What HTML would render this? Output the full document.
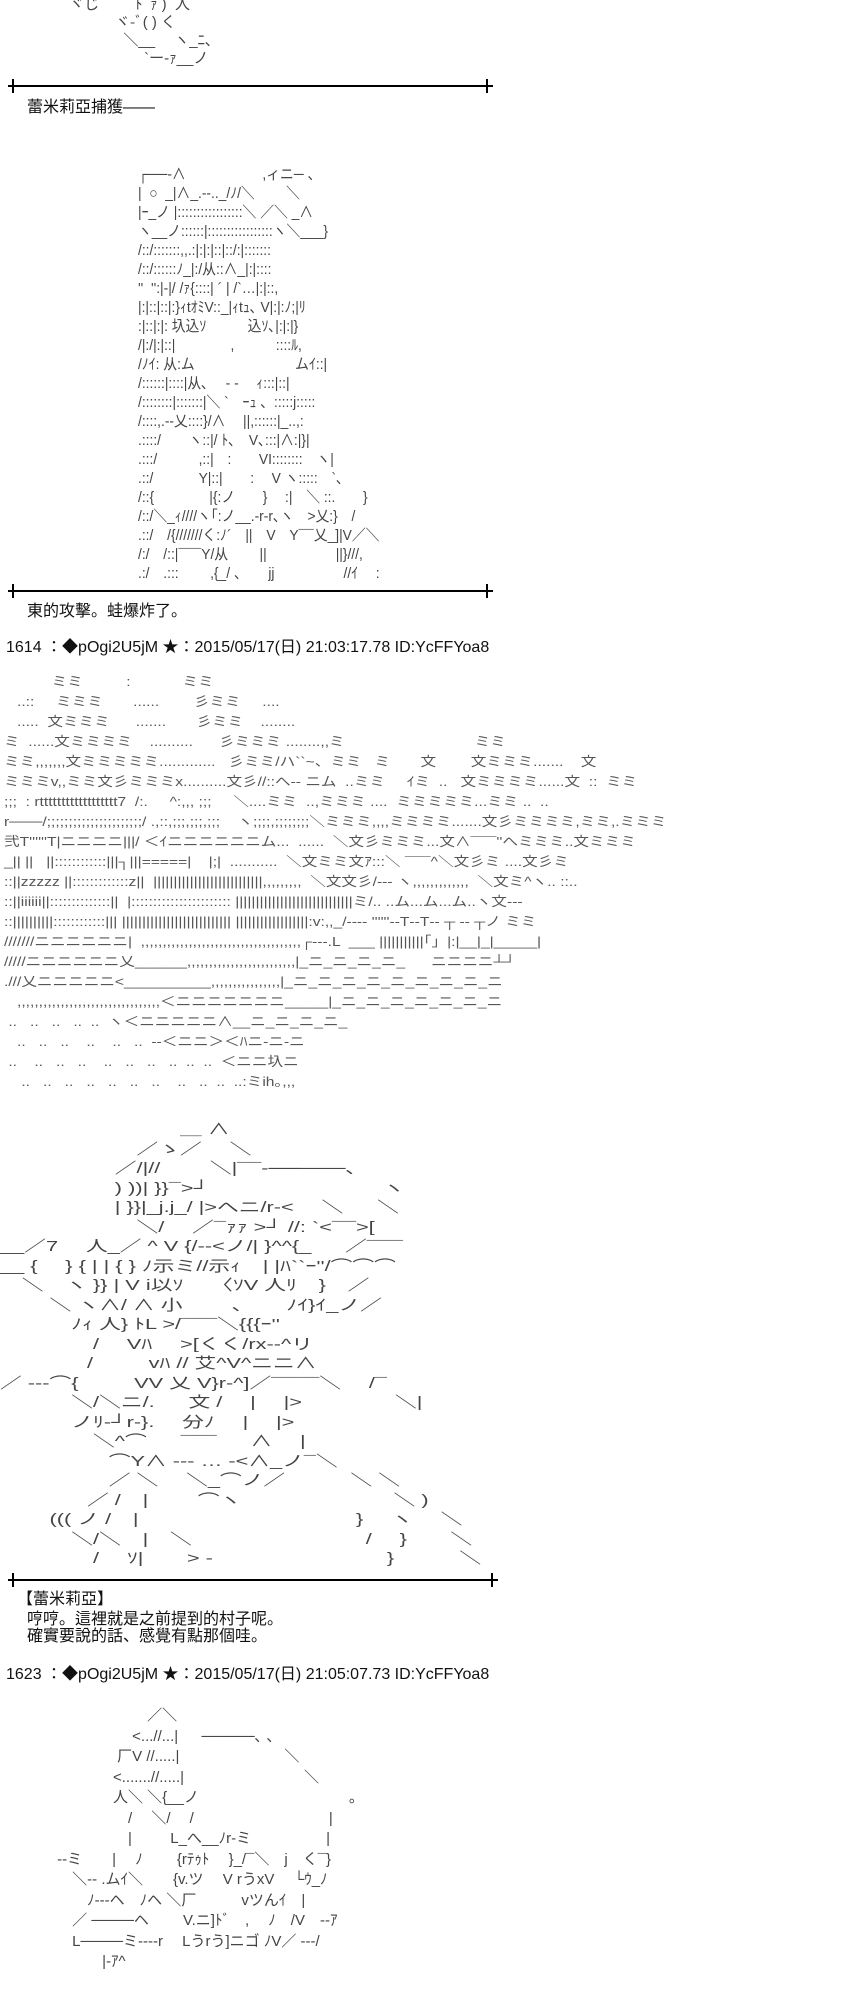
<!DOCTYPE html>
<html><head><meta charset="utf-8"><style>
body{margin:0;width:850px;height:2000px;background:#fff;position:relative;overflow:hidden;font-family:"Liberation Sans","Noto Sans CJK JP",sans-serif;color:#111}
.t{position:absolute;font-size:16px;line-height:20px;white-space:nowrap}
pre{position:absolute;margin:0;font-family:"Liberation Sans","Noto Sans CJK JP",sans-serif;font-size:15px;line-height:18px;color:#444;white-space:pre;transform-origin:0 0}
.rule{position:absolute;left:8px;height:2px;background:#000}
.tick{position:absolute;width:2px;height:14px;background:#000}
</style></head><body>

<pre style="left:40px;top:-4px">       ヾじ゛     ﾄﾞｧ )  人
                  ヾ-ﾞ( ) く
                    ＼__　 ヽ_ﾆ､
                         `ー-ｧ__ノ</pre>

<div class="rule" style="top:85px;width:485px"></div>
<div class="tick" style="left:12px;top:79px"></div><div class="tick" style="left:486px;top:79px"></div>
<div class="t" style="left:27px;top:98px">蕾米莉亞捕獲——</div>

<pre style="left:138px;top:165px;line-height:19px;transform:scaleX(0.92)">┌──‐∧　　　　　  ,ィニ─ 、
|  ○  _|∧_.‐‐.._/ﾉ/＼　　 ＼
|ｰ_ノ |:::::::::::::::::＼ ／＼ _∧
ヽ__ノ::::::|:::::::::::::::::ヽ＼___}
/::/:::::::,,.:|:|:|::|::/:|:::::::
/::/::::::ﾉ_|:/从::∧_|:|::::
''  '':|-|/ /ｧ{::::| ´ | /`…|:|::,
|:|::|::|:}ｨtｵﾐV::_|ｨtｭ､ V|:|:ﾉ;|ﾘ
:|::|:|: 圦込ｿ　　　込ｿ､|:|:|}
/|:/|:|::|　　　　,　　　::::ﾙ,
/ﾉｲ: 从:ム　　　　　　　 ムｲ::|
/::::::|::::|从､　 ‐ ‐　 ｨ:::|::|
/::::::::|:::::::|＼ `　ｰｭ 、:::::j:::::
/::::,.‐-乂::::}/∧　 ||,::::::|_..,:
.::::/　　ヽ::|/ ﾄ､　V､:::|∧:|}|
.:::/　　　,::|　:　　VI::::::::　ヽ|
.::/　　　 Y|::|　　:　 V ヽ:::::　`､
/::{　　　　|{:ノ　　}　 :|　＼ ::.　　}
/::/＼_ｨ////ヽ｢:ノ__.‐r‐r､ヽ　>乂:}　/
.::/　/{///////く:ﾉ´　||　V　Y¯¯乂_]|V／＼
/:/　/::|¯¯¯Y/从　　 ||　　　　　||}///,
.:/　.:::　　 ,{_/ 、　　jj　　　　　//ｲ　 :</pre>

<div class="rule" style="top:590px;width:485px"></div>
<div class="tick" style="left:12px;top:584px"></div><div class="tick" style="left:486px;top:584px"></div>
<div class="t" style="left:27px;top:602px">東的攻擊。蛙爆炸了。</div>
<div class="t" style="left:6px;top:638px">1614 ：◆pOgi2U5jM ★：2015/05/17(日) 21:03:17.78 ID:YcFFYoa8</div>

<pre style="left:4px;top:672px;color:#555;font-size:13px;line-height:20px;transform:scaleX(1.2)">           ミミ          :            ミミ
   ..::     ミミミ       ......        彡ミミ     ....
   .....  文ミミミ      .......       彡ミミ    ........
ミ  ......文ミミミミ    ..........      彡ミミミ ........,,ミ                              ミミ
ミミ,,,,,,,文ミミミミミ.............   彡ミミ/ハ``~、ミミ   ミ       文        文ミミミ.......    文
ミミミv,,ミミ文彡ミミミx..........文彡//::へ‐‐ ニム  ..ミミ     ｲミ  ..   文ミミミミ......文  ::  ミミ
;;;  : rtttttttttttttttttt7  /:.     ^:,,, ;;;     ＼....ミミ  ..,ミミミ ....  ミミミミミ...ミミ ..  ..
r───/;;;;;;;;;;;;;;;;;;;;;;/ .,::,;;;,;;;,;;;    ヽ;;;;,;;;;;;;;＼ミミミ,,,,ミミミミ.......文彡ミミミミ,ミミ,.ミミミ
弐T''''''T|ニニニニ|||/ ＜ｲニニニニニニム...  ......  ＼文彡ミミミ...文∧¯¯¯''へミミミ..文ミミミ
_|| ||   ||::::::::::::|||┐|||=====|    |;|  ...........  ＼文ミミ文ｱ:::＼ ¯¯¯^＼文彡ミ ....文彡ミ
::||zzzzz ||:::::::::::::z||  |||||||||||||||||||||||||||,,,,,,,,,  ＼文文彡/‐‐‐ ヽ,,,,,,,,,,,,,  ＼文ミ^ヽ.. ::..
::||iiiiii||::::::::::::::||  |::::::::::::::::::::::: |||||||||||||||||||||||||||||ミ/.. ..ム...ム...ム..ヽ文‐‐‐ 
::||||||||||::::::::::::||| ||||||||||||||||||||||||||| ||||||||||||||||||:v:,,_/‐‐‐‐ ''''''‐‐T‐‐T‐‐ ┬ ‐‐ ┬ノ ミミ
///////ニニニニニニ|  ,,,,,,,,,,,,,,,,,,,,,,,,,,,,,,,,,,,,,┌‐‐‐.L  ___ |||||||||||｢」|:|__|_|_____|
/////ニニニニニニ乂______,,,,,,,,,,,,,,,,,,,,,,,,,|_ニ_ニ_ニ_ニ_      ニニニニ┴┘
.///乂ニニニニニ<__________,,,,,,,,,,,,,,,,|_ニ_ニ_ニ_ニ_ニ_ニ_ニ_ニ_ニ
   ,,,,,,,,,,,,,,,,,,,,,,,,,,,,,,,,,＜ニニニニニニニ_____|_ニ_ニ_ニ_ニ_ニ_ニ_ニ
 ..   ..   ..   ..  ..  ヽ＜ニニニニニ∧__ニ_ニ_ニ_ニ_
   ..   ..   ..    ..    ..   ..  ‐‐＜ニニ＞＜ﾊニ‐ニ‐ニ
 ..    ..   ..   ..    ..   ..   ..   ..  ..  ..  ＜ニニ圦ニ
    ..   ..   ..   ..   ..   ..   ..    ..   ..  ..  ..:ミih｡,,,</pre>

<pre style="left:0px;top:1120px;line-height:19.5px;transform:scaleX(1.45)">　　　　　　　　 ＿ ∧
　　　　　　 ／ゝ／ 　＼
　　　　　 ／/|//　　 ＼|¯¯‐─────､
　　　　　 ) ))| }}¯>┘　　　　　　　　ヽ
　　　　　 | }}|_j.j_/ |>へニ/r‐< 　＼ 　 ＼
　　　　　　 ＼/ 　／¯ｧｧ >┘ //: `<¯¯>[
__／7　 人_／ ^ V {/‐‐<ノ/| }^^{_ 　 ／¯¯¯
__ {　 } { | | { } ﾉ示ミ//示ｨ　| |ﾊ``ｰ''/⌒⌒⌒
　＼　ヽ }} | V i以ｿ　 〈ｿV 人ﾘ　}　／
　　 ＼ ヽ∧/ ∧ 小　　 ､　　ﾉｲ}ｲ_ノ／
　　　 ﾉｨ 人} ﾄL >/¯¯¯＼{{{ｰ''
　　　　 / 　Vﾊ　 >[くく/rx‐‐^リ
　　　　/ 　　 vﾊ // 艾^V^ニニ∧
／ ‐‐‐⌒{ 　　 VV 乂 V}r‐^]／¯¯¯¯＼ 　/¯
　　　 ＼/＼ニ/. 　 文 / 　| 　|> 　　　　＼|
　　　 ノﾘ‐┘r-}.　 分ﾉ　 | 　|> 
　　　　 ＼^⌒ 　 ¯¯¯ 　 ∧ 　|
　　　　　⌒Y∧ ‐‐‐ … ‐<∧_ノ¯＼
　　　　　／ ＼ 　＼_⌒ノ／　　　＼ ＼
　　　　／ /　|　　 ⌒ヽ　　　　　　　＼ )
　　 ((( ノ /　|　　　　　　　　　　} 　ヽ 　＼
　　　 ＼/＼　|　＼　　　　　　　　/ 　}　　＼
　　　　 / 　ｿ|　　> ‐　　　　　　　　}　　　＼</pre>

<div class="rule" style="top:1579px;width:490px"></div>
<div class="tick" style="left:12px;top:1573px"></div><div class="tick" style="left:491px;top:1573px"></div>
<div class="t" style="left:17px;top:1590px">【蕾米莉亞】</div>
<div class="t" style="left:27px;top:1610px">哼哼。這裡就是之前提到的村子呢。</div>
<div class="t" style="left:27px;top:1627px">確實要說的話、感覺有點那個哇。</div>
<div class="t" style="left:6px;top:1665px">1623 ：◆pOgi2U5jM ★：2015/05/17(日) 21:05:07.73 ID:YcFFYoa8</div>

<pre style="left:38px;top:1706px;line-height:20.5px">　　　　　　　 ／＼
　　　　　　 <...//...| 　 ─────､ 、
　　　　　 厂V //.....|　　　　　　　＼
　　　　　<.......//.....|　　　　　　　　＼
　　　　　人＼ ＼{__ノ　　　　　　　　　　。
　　　　　　/ 　＼/ 　/　　　　　　　　　|
　　　　　　| 　　 L_へ__ﾉr‐ミ　　　　　|
　 ‐‐ミ　　|　 ﾉ 　　{rﾃｩﾄ　 }_/¯＼　j　く¯}
　　 ＼‐‐ .ムｲ＼　　{v.ツ 　V rうxV 　└ｳ_ﾉ
　　　 ﾉ‐‐‐ヘ　ﾉヘ ＼厂　　　vツんｲ　|
　　 ／ ────ヘ　　 V.ニ]ﾄﾞ　,　 ﾉ　/V　‐‐ｱ
　　 L────ミ‐‐‐‐r　 Lうrう]ニゴ ﾉV／ ‐‐‐/
　　　　 |‐ｱ^<x_| <_h_)､‐‐r^‐‐rミ V
　　　　 |7 ／ ／ |　 |　|‐く_ﾉ ^]/
　　　 ＿/¯＼__/ 　 |　|ヽ___／
　　　 }L　　 L_へ_r┘　L_へ __</pre>

</body></html>
